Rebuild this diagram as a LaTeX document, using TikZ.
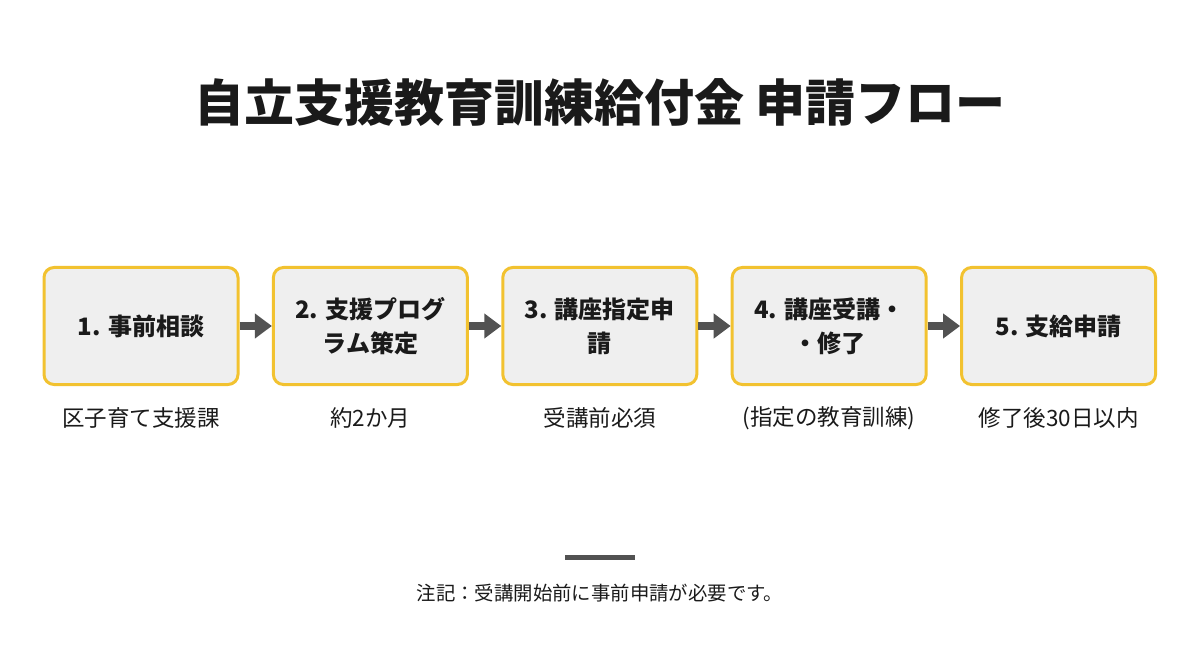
\documentclass[tikz,border=0pt]{standalone}
\usepackage{fontspec}
\setmainfont{Noto Sans CJK JP}
\usetikzlibrary{arrows.meta}
\definecolor{boxline}{HTML}{F2C230}
\definecolor{boxfill}{HTML}{EFEFEF}
\definecolor{arrowgray}{HTML}{525252}
\definecolor{ink}{HTML}{1A1A1A}
\tikzset{
  stepbox/.style={draw=boxline, line width=3pt, fill=boxfill, rounded corners=10pt,
    minimum width=194pt, minimum height=117pt, align=center, text=ink,
    font=\bfseries\fontsize{24}{34}\selectfont},
  sublabel/.style={text=ink, font=\fontsize{22.5}{27}\selectfont},
  flowarrow/.style={arrowgray, line width=8pt, -{Triangle[length=17pt,width=24pt]}}
}
\begin{document}
\begin{tikzpicture}[x=1pt, y=-1pt]

  \newcommand\X{229.4}
  \newcommand\Y{326}

  \useasboundingbox (0,0) rectangle (1200,655);

  \node[text=ink, font=\bfseries\fontsize{50}{58}\selectfont] (title) at (600,103)
    {自立支援教育訓練給付金 申請フロー};

  \node[stepbox] (s1) at (141+0*\X, \Y) {1. 事前相談};
  \node[stepbox] (s2) at (141+1*\X, \Y) {2. 支援プログ\\ラム策定};
  \node[stepbox] (s3) at (141+2*\X, \Y) {3. 講座指定申\\請};
  \node[stepbox] (s4) at (141+3*\X, \Y) {4. 講座受講・\\・修了};
  \node[stepbox] (s5) at (141+4*\X, \Y) {5. 支給申請};

  \draw[flowarrow] (s1) -- (s2);
  \draw[flowarrow] (s2) -- (s3);
  \draw[flowarrow] (s3) -- (s4);
  \draw[flowarrow] (s4) -- (s5);

  \node[sublabel] (l1) at (141+0*\X, 418) {区子育て支援課};
  \node[sublabel] (l2) at (141+1*\X, 418) {約2か月};
  \node[sublabel] (l3) at (141+2*\X, 418) {受講前必須};
  \node[sublabel] (l4) at (141+3*\X, 418) {(指定の教育訓練)};
  \node[sublabel] (l5) at (141+4*\X, 418) {修了後30日以内};

  \draw[arrowgray, line width=5pt] (565,557) -- (635,557);
  \node[text=ink, font=\fontsize{19.4}{23}\selectfont] (note) at (600,593)
    {注記：受講開始前に事前申請が必要です。};
\end{tikzpicture}
\end{document}
